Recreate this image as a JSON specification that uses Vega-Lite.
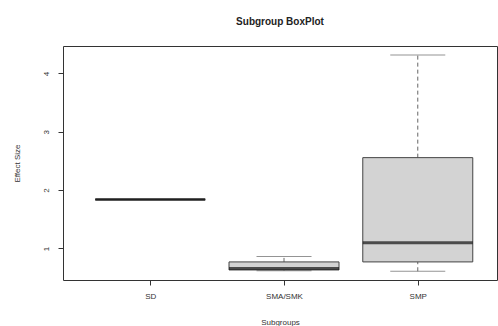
{
  "$schema": "https://vega.github.io/schema/vega-lite/v6.json",
  "autosize": "none",
  "width": 434,
  "height": 234,
  "padding": {"left": 63, "top": 46, "right": 1, "bottom": 46},
  "background": "white",
  "config": {
    "view": {"stroke": "#333333", "strokeWidth": 1},
    "font": "Liberation Sans"
  },
  "title": {
    "text": "Subgroup BoxPlot",
    "fontSize": 10,
    "fontWeight": "bold",
    "color": "#222222",
    "offset": 19,
    "anchor": "middle"
  },
  "data": {
    "values": [
      {"sg": 1, "name": "SD", "lower": 1.84, "q1": 1.84, "median": 1.84, "q3": 1.84, "upper": 1.84},
      {"sg": 2, "name": "SMA/SMK", "lower": 0.62, "q1": 0.632, "median": 0.656, "q3": 0.77, "upper": 0.863},
      {"sg": 3, "name": "SMP", "lower": 0.61, "q1": 0.77, "median": 1.1, "q3": 2.557, "upper": 4.316}
    ]
  },
  "layer": [
    {
      "mark": {"type": "rule", "color": "#666666", "strokeDash": [4, 3], "strokeWidth": 1},
      "encoding": {
        "x": {
          "field": "sg", "type": "quantitative",
          "scale": {"domain": [0.385, 3.555], "nice": false, "zero": false},
          "axis": {
            "values": [1, 2, 3],
            "labelExpr": "datum.value == 1 ? 'SD' : datum.value == 2 ? 'SMA/SMK' : 'SMP'",
            "title": "Subgroups",
            "grid": false,
            "domain": false,
            "tickColor": "#333333",
            "tickSize": 5,
            "labelFontSize": 8,
            "labelColor": "#333333",
            "labelPadding": 7,
            "titleFontSize": 8,
            "titleFontWeight": "normal",
            "titleColor": "#333333",
            "titlePadding": 18
          }
        },
        "y": {
          "field": "q3", "type": "quantitative",
          "scale": {"domain": [0.46, 4.47], "nice": false, "zero": false},
          "axis": {
            "values": [1, 2, 3, 4],
            "format": "d",
            "title": "Effect Size",
            "grid": false,
            "domain": false,
            "tickColor": "#333333",
            "tickSize": 5,
            "labelAngle": -90,
            "labelAlign": "center",
            "labelBaseline": "bottom",
            "labelFontSize": 8,
            "labelColor": "#333333",
            "labelPadding": 8,
            "titleFontSize": 8,
            "titleFontWeight": "normal",
            "titleColor": "#333333",
            "titlePadding": 21
          }
        },
        "y2": {"field": "upper"}
      }
    },
    {
      "mark": {"type": "rule", "color": "#666666", "strokeDash": [4, 3], "strokeWidth": 1},
      "encoding": {
        "x": {"field": "sg", "type": "quantitative"},
        "y": {"field": "lower", "type": "quantitative"},
        "y2": {"field": "q1"}
      }
    },
    {
      "mark": {"type": "tick", "orient": "horizontal", "size": 55, "thickness": 1, "color": "#666666"},
      "encoding": {
        "x": {"field": "sg", "type": "quantitative"},
        "y": {"field": "upper", "type": "quantitative"}
      }
    },
    {
      "mark": {"type": "tick", "orient": "horizontal", "size": 55, "thickness": 1, "color": "#666666"},
      "encoding": {
        "x": {"field": "sg", "type": "quantitative"},
        "y": {"field": "lower", "type": "quantitative"}
      }
    },
    {
      "mark": {"type": "bar", "size": 110, "fill": "#d3d3d3", "stroke": "#444444", "strokeWidth": 1},
      "encoding": {
        "x": {"field": "sg", "type": "quantitative"},
        "y": {"field": "q1", "type": "quantitative"},
        "y2": {"field": "q3"}
      }
    },
    {
      "mark": {"type": "tick", "orient": "horizontal", "size": 110, "thickness": 3, "color": "#111111"},
      "encoding": {
        "x": {"field": "sg", "type": "quantitative"},
        "y": {"field": "median", "type": "quantitative"}
      }
    }
  ]
}
